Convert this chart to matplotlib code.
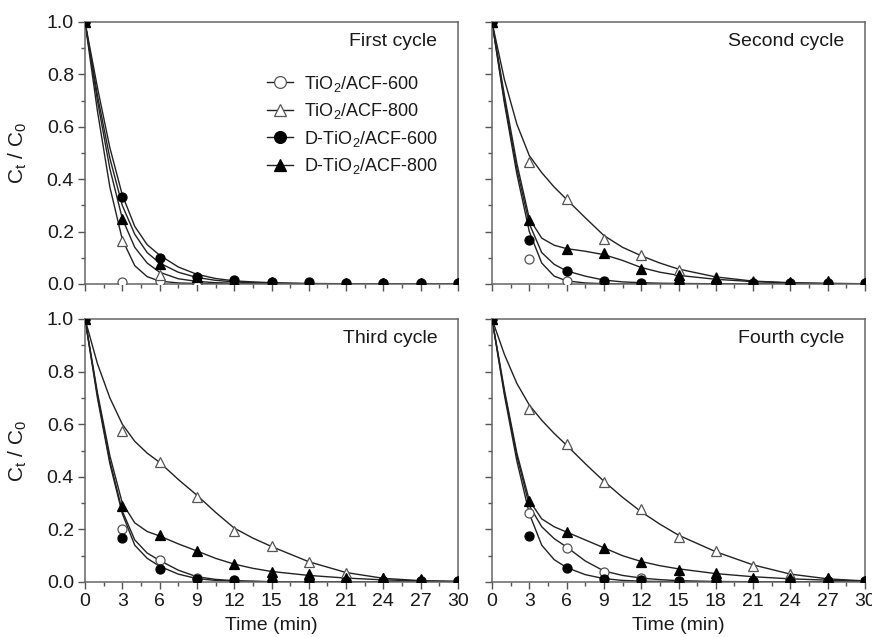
import matplotlib
matplotlib.use("Agg")
import matplotlib.pyplot as plt
from matplotlib.lines import Line2D
from matplotlib.ticker import MultipleLocator

plt.rcParams['font.family'] = ['Liberation Sans', 'DejaVu Sans']
plt.rcParams['mathtext.fontset'] = 'custom'
plt.rcParams['mathtext.rm'] = 'Liberation Sans'
plt.rcParams['mathtext.it'] = 'Liberation Sans'

# measured points (time, min)
t_pts = [0, 3, 6, 9, 12, 15, 18, 21, 24, 27, 30]
# fitted curves
t_fit = [0, 1, 2, 3, 4, 5, 6, 7.5, 9, 10.5, 12, 13.5, 15, 18, 21, 24, 27, 30]

labels = ['TiO$_2$/ACF-600', 'TiO$_2$/ACF-800', 'D-TiO$_2$/ACF-600', 'D-TiO$_2$/ACF-800']
titles = ['First cycle', 'Second cycle', 'Third cycle', 'Fourth cycle']

# order in each list: TiO2-600, TiO2-800, D-600, D-800
pts_c1 = [
    [1, 0.009, 0.010, 0.005, 0.002, 0.001, 0.001, 0.001, 0.001, 0.001, 0.001],
    [1, 0.165, 0.034, 0.010, 0.004, 0.002, 0.002, 0.002, 0.002, 0.002, 0.002],
    [1, 0.333, 0.098, 0.028, 0.015, 0.009, 0.006, 0.005, 0.005, 0.005, 0.005],
    [1, 0.248, 0.075, 0.025, 0.012, 0.006, 0.005, 0.005, 0.005, 0.005, 0.005],
]
fit_c1 = [
    [1, 0.66, 0.37, 0.17, 0.07, 0.028, 0.011, 0.004, 0.002, 0.001, 0, 0, 0, 0, 0, 0, 0, 0],
    [1, 0.70, 0.44, 0.25, 0.14, 0.08, 0.045, 0.020, 0.010, 0.005, 0.003, 0.002, 0.001, 0, 0, 0, 0, 0],
    [1, 0.75, 0.52, 0.34, 0.22, 0.15, 0.11, 0.065, 0.037, 0.021, 0.012, 0.008, 0.005, 0.002, 0.001, 0, 0, 0],
    [1, 0.72, 0.48, 0.30, 0.19, 0.12, 0.08, 0.045, 0.025, 0.014, 0.008, 0.005, 0.003, 0.001, 0, 0, 0, 0],
]

pts_c2 = [
    [1, 0.094, 0.013, 0.002, 0.001, 0.001, 0.001, 0.001, 0.001, 0.001, 0.001],
    [1, 0.464, 0.323, 0.170, 0.111, 0.053, 0.025, 0.010, 0.005, 0.005, 0.003],
    [1, 0.168, 0.051, 0.013, 0.005, 0.004, 0.003, 0.003, 0.003, 0.003, 0.003],
    [1, 0.244, 0.133, 0.117, 0.058, 0.033, 0.024, 0.009, 0.006, 0.012, 0.004],
]
fit_c2 = [
    [1, 0.69, 0.42, 0.20, 0.08, 0.03, 0.012, 0.004, 0.001, 0, 0, 0, 0, 0, 0, 0, 0, 0],
    [1, 0.78, 0.61, 0.49, 0.425, 0.37, 0.323, 0.253, 0.185, 0.14, 0.108, 0.08, 0.057, 0.027, 0.011, 0.005, 0.002, 0.001],
    [1, 0.70, 0.44, 0.23, 0.12, 0.075, 0.05, 0.03, 0.015, 0.008, 0.005, 0.003, 0.002, 0.001, 0, 0, 0, 0],
    [1, 0.72, 0.46, 0.25, 0.175, 0.148, 0.135, 0.125, 0.112, 0.09, 0.063, 0.045, 0.033, 0.018, 0.009, 0.004, 0.002, 0.001],
]

pts_c3 = [
    [1, 0.200, 0.085, 0.016, 0.003, 0.002, 0.002, 0.002, 0.002, 0.002, 0.002],
    [1, 0.576, 0.455, 0.324, 0.193, 0.136, 0.076, 0.034, 0.016, 0.006, 0.003],
    [1, 0.169, 0.051, 0.013, 0.006, 0.004, 0.004, 0.004, 0.004, 0.004, 0.004],
    [1, 0.290, 0.178, 0.117, 0.067, 0.037, 0.030, 0.016, 0.014, 0.011, 0.005],
]
fit_c3 = [
    [1, 0.71, 0.46, 0.27, 0.16, 0.11, 0.082, 0.045, 0.02, 0.01, 0.005, 0.003, 0.001, 0, 0, 0, 0, 0],
    [1, 0.83, 0.70, 0.60, 0.535, 0.49, 0.455, 0.39, 0.33, 0.265, 0.205, 0.167, 0.135, 0.077, 0.036, 0.014, 0.005, 0.002],
    [1, 0.70, 0.45, 0.26, 0.14, 0.09, 0.06, 0.03, 0.013, 0.006, 0.003, 0.002, 0.001, 0, 0, 0, 0, 0],
    [1, 0.72, 0.48, 0.30, 0.225, 0.192, 0.175, 0.145, 0.118, 0.09, 0.068, 0.052, 0.04, 0.025, 0.015, 0.008, 0.004, 0.002],
]

pts_c4 = [
    [1, 0.264, 0.131, 0.038, 0.016, 0.005, 0.002, 0.002, 0.002, 0.002, 0.002],
    [1, 0.657, 0.525, 0.381, 0.277, 0.172, 0.118, 0.062, 0.029, 0.016, 0.003],
    [1, 0.174, 0.055, 0.013, 0.006, 0.004, 0.004, 0.004, 0.004, 0.004, 0.004],
    [1, 0.307, 0.192, 0.131, 0.076, 0.047, 0.033, 0.016, 0.016, 0.016, 0.005],
]
fit_c4 = [
    [1, 0.72, 0.48, 0.29, 0.21, 0.165, 0.133, 0.08, 0.042, 0.025, 0.015, 0.009, 0.005, 0.002, 0.001, 0, 0, 0],
    [1, 0.865, 0.755, 0.673, 0.615, 0.565, 0.52, 0.45, 0.383, 0.322, 0.267, 0.22, 0.178, 0.115, 0.065, 0.03, 0.012, 0.004],
    [1, 0.71, 0.46, 0.26, 0.14, 0.085, 0.055, 0.028, 0.013, 0.006, 0.003, 0.002, 0.001, 0, 0, 0, 0, 0],
    [1, 0.73, 0.49, 0.31, 0.24, 0.21, 0.19, 0.16, 0.13, 0.10, 0.078, 0.062, 0.05, 0.032, 0.02, 0.012, 0.007, 0.003],
]

all_pts = [pts_c1, pts_c2, pts_c3, pts_c4]
all_fit = [fit_c1, fit_c2, fit_c3, fit_c4]

markers = ['o', '^', 'o', '^']
faces = ['white', 'white', 'black', 'black']
edges = ['#555555', '#555555', 'black', 'black']
ink = '#1a1a1a'

fig = plt.figure(figsize=(8.72, 6.37), dpi=100)
W, H = 872, 637
boxes = [(85, 22, 262), (492, 22, 262), (85, 319, 263), (492, 319, 263)]
axes = []
for x0, y0, h in boxes:
    ax = fig.add_axes([x0 / W, 1 - (y0 + h) / H, 373 / W, h / H])
    axes.append(ax)

for i, ax in enumerate(axes):
    for k in range(4):
        ax.plot(t_fit, all_fit[i][k], color='#222222', lw=1.0, zorder=2)
        ax.plot(t_pts, all_pts[i][k], ls='none', marker=markers[k], ms=6.5,
                mfc=faces[k], mec=edges[k], mew=0.9, zorder=3)
    ax.set_xlim(0, 30)
    ax.set_ylim(0, 1.0)
    ax.xaxis.set_major_locator(MultipleLocator(3))
    ax.xaxis.set_minor_locator(MultipleLocator(1.5))
    ax.yaxis.set_major_locator(MultipleLocator(0.2))
    ax.yaxis.set_minor_locator(MultipleLocator(0.1))
    ax.tick_params(which='major', direction='out', length=5, width=1, color='#555555',
                   labelsize=14, labelcolor=ink, pad=3)
    ax.tick_params(which='minor', direction='out', length=3, width=1, color='#555555')
    for s in ax.spines.values():
        s.set_color('#666666')
        s.set_linewidth(1.1)
    ax.text(0.945, 0.925, titles[i], transform=ax.transAxes, ha='right', va='center',
            fontsize=14, color=ink)
    if i in (1, 3):
        ax.set_yticklabels([])
    else:
        ax.yaxis.set_major_formatter(plt.FormatStrFormatter('%.1f'))
        ax.set_ylabel('C$_t$ / C$_0$', fontsize=15, color=ink)
        ax.yaxis.set_label_coords(-0.15, 0.5)
    if i in (0, 1):
        ax.set_xticklabels([])
    else:
        ax.set_xlabel('Time (min)', fontsize=14, color=ink, labelpad=5)

handles = [Line2D([], [], color='#222222', lw=1.0, marker=markers[k], ms=8.5,
                  mfc=faces[k], mec=edges[k], mew=0.9) for k in range(4)]
axes[0].legend(handles, labels, loc='upper left', bbox_to_anchor=(0.488, 0.803),
               frameon=False, fontsize=13, handlelength=1.45, handletextpad=0.6,
               labelspacing=0.42, borderpad=0, borderaxespad=0, labelcolor=ink)

fig.savefig('out.png', dpi=100)
